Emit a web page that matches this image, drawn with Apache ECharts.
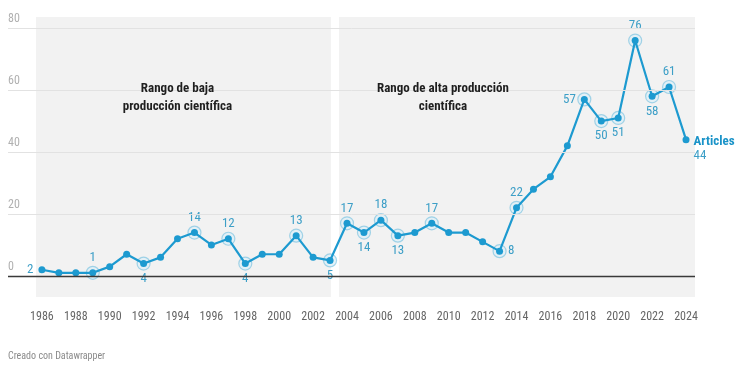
<!DOCTYPE html>
<html>
<head>
<meta charset="utf-8">
<script src="https://cdn.jsdelivr.net/npm/echarts@6/dist/echarts.min.js"></script>
<style>
  html, body { margin: 0; padding: 0; background: #fff; }
  #chart { width: 735px; height: 372px; }
</style>
</head>
<body>
<div id="chart"></div>
<script>
// ---- data ----
const years = [1986,1987,1988,1989,1990,1991,1992,1993,1994,1995,1996,1997,1998,1999,2000,2001,2002,2003,2004,2005,2006,2007,2008,2009,2010,2011,2012,2013,2014,2015,2016,2017,2018,2019,2020,2021,2022,2023,2024];
const articles = [2,1,1,1,3,7,4,6,12,14,10,12,4,7,7,13,6,5,17,14,18,13,14,17,14,14,11,8,22,28,32,42,57,50,51,76,58,61,44];
const xTicks = [1986,1988,1990,1992,1994,1996,1998,2000,2002,2004,2006,2008,2010,2012,2014,2016,2018,2020,2022,2024];
const yTicks = [0,20,40,60,80];
const seriesName = 'Articles';
const rangeNames = ['Rango de baja\nproducción científica', 'Rango de alta producción\ncientífica'];
const rangeBounds = [[1985.65, 2003.05], [2003.53, 2024.53]];
const rangeLabelAt = [[1994, 57.5], [2009.66, 57.5]];
// label placement for annotated years (style config)
const labelPlacement = {1986:'left',1989:'top',1992:'bottom',1995:'top',1997:'top',1998:'bottom',2001:'top',2003:'bottom',2004:'top',2005:'bottom',2006:'top',2007:'bottom',2009:'top',2013:'right',2014:'top',2018:'left',2019:'bottom',2020:'bottom',2021:'top',2022:'bottom',2023:'top'};
const haloYears = [1989,1992,1995,1997,1998,2001,2003,2004,2005,2006,2007,2009,2013,2014,2018,2019,2020,2021,2022,2023];

const COND = "'Roboto Condensed', 'Liberation Sans Narrow', 'DejaVu Sans Condensed', Roboto, sans-serif";
const BLUE = '#1d9ad0';
const LBLUE = '#3d9fc7';

const pts = years.map((y, i) => [y, articles[i]]);
const lastIdx = years.length - 1;
const mainData = pts.map((p, i) => {
  const pos = labelPlacement[p[0]];
  if (i === lastIdx) {
    return { value: p, label: { show: true, position: 'right', distance: 4, offset: [0, 9],
      formatter: '{a|' + seriesName + '}\n{v|' + p[1] + '}',
      rich: { a: { fontFamily: COND, fontWeight: 'bold', fontSize: 13, color: '#1a93c8', lineHeight: 14 },
              v: { fontFamily: COND, fontSize: 13, color: LBLUE, lineHeight: 14 } } } };
  }
  if (pos) return { value: p, label: { show: true, position: pos } };
  return { value: p };
});
const haloData = pts.filter(p => haloYears.includes(p[0]));

const chart = echarts.init(document.getElementById('chart'), null, { renderer: 'canvas' });
chart.setOption({
  animation: false,
  backgroundColor: '#ffffff',
  title: {
    text: 'Creado con Datawrapper',
    left: 3, top: 346,
    textStyle: { fontFamily: COND, fontSize: 10, fontWeight: 'normal', color: '#8a8a8a' }
  },
  grid: { left: 8, right: 40, top: 17, bottom: 75, containLabel: false },
  xAxis: {
    type: 'value', min: 1984, max: 2024.53,
    axisLine: { show: false },
    splitLine: { show: false },
    axisTick: { show: true, length: 5, customValues: xTicks, lineStyle: { color: '#777', width: 1 } },
    axisLabel: { customValues: xTicks, margin: 14, fontFamily: COND, fontSize: 12, color: '#666',
                 formatter: v => String(v) }
  },
  yAxis: {
    type: 'value', min: -6.8, max: 83.6,
    axisLine: { show: false }, axisTick: { show: false },
    splitLine: { show: false },
    axisLabel: { customValues: yTicks, inside: true, margin: 0, verticalAlign: 'bottom', padding: [0,0,3,0],
                 fontFamily: COND, fontSize: 12, color: '#b0b0b0' }
  },
  series: [
    {
      name: 'areas', type: 'line', data: pts, z: 0, silent: true, symbol: 'none',
      lineStyle: { opacity: 0 },
      markArea: {
        silent: true,
        itemStyle: { color: '#f2f2f2' },
        data: rangeBounds.map(b => [{ xAxis: b[0] }, { xAxis: b[1] }])
      },
      markPoint: {
        silent: true, symbol: 'circle', symbolSize: 1, itemStyle: { color: 'rgba(0,0,0,0)' },
        label: { show: true, position: 'inside', fontFamily: COND, fontWeight: 'bold', fontSize: 13,
                 color: '#1f1f1f', lineHeight: 18, align: 'center' },
        data: rangeLabelAt.map((c, i) => ({ coord: c, value: rangeNames[i], label: { formatter: rangeNames[i] } }))
      }
    },
    {
      name: 'lines', type: 'line', data: pts, z: 1, silent: true, symbol: 'none',
      lineStyle: { opacity: 0 },
      markLine: {
        silent: true, symbol: 'none', label: { show: false },
        data: yTicks.map(v => ({ yAxis: v, lineStyle: v === 0
          ? { color: '#3a3a3a', width: 1.4, type: 'solid' }
          : { color: '#e2e2e2', width: 1, type: 'solid' } }))
      }
    },
    {
      name: 'halo', type: 'scatter', data: haloData, z: 2, silent: true,
      symbolSize: 13,
      itemStyle: { color: 'rgba(220,238,247,0.9)', borderColor: 'rgba(29,154,208,0.45)', borderWidth: 1.2 }
    },
    {
      name: seriesName, type: 'line', data: mainData, z: 3,
      symbol: 'circle', symbolSize: 7, showAllSymbol: true,
      lineStyle: { color: BLUE, width: 2.2 },
      itemStyle: { color: BLUE },
      label: { show: false, fontFamily: COND, fontSize: 13, color: LBLUE, distance: 5 }
    }
  ]
});
</script>
</body>
</html>
